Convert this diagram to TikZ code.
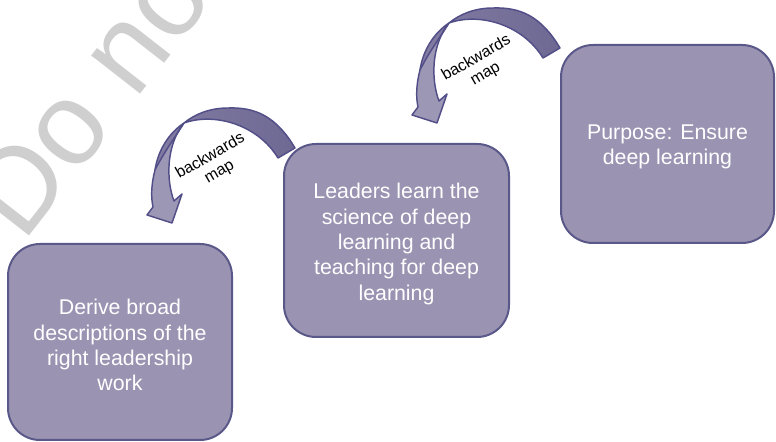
\documentclass[tikz,border=0pt]{standalone}
\usepackage{fontspec}
\setmainfont{Liberation Sans}
\definecolor{boxfill}{HTML}{9A94B2}
\definecolor{boxline}{HTML}{5A5889}
\definecolor{arrdark}{HTML}{6E6993}
\definecolor{arrmid}{HTML}{827CA3}
\definecolor{arrlight}{HTML}{9D97B6}
\definecolor{arrline}{HTML}{524F88}
\definecolor{wmark}{HTML}{CFCFCF}
\newcommand{\bwarrow}{%
  % dark back face of the ribbon
  \shade[left color=arrmid, right color=arrdark]
    (295,148) .. controls (276,116) and (255,107) .. (228,108)
    .. controls (210,108) and (195,114) .. (184,123)
    .. controls (169,133) and (158,150) .. (155,170)
    .. controls (164,152) and (176,136) .. (184,123)
    .. controls (215,112) and (258,125) .. (278,158) -- cycle;
  % light front face with the head
  \fill[arrlight]
    (184,123) .. controls (176,136) and (164,152) .. (155,170)
    .. controls (151,185) and (151,198) .. (153,207)
    -- (147,215) -- (172,223) -- (182,194) -- (174,201)
    .. controls (166,180) and (166,145) .. (184,123) -- cycle;
  % outlines
  \draw[arrout]
    (295,148) .. controls (276,116) and (255,107) .. (228,108)
    .. controls (210,108) and (195,114) .. (184,123)
    .. controls (169,133) and (158,150) .. (155,170)
    .. controls (151,185) and (151,198) .. (153,207)
    -- (147,215) -- (172,223) -- (182,194) -- (174,201)
    .. controls (166,180) and (166,145) .. (184,123)
    .. controls (215,112) and (258,125) .. (278,158) -- cycle;
  \draw[arrout] (184,123) .. controls (176,136) and (164,152) .. (155,170);
}
\begin{document}
\begin{tikzpicture}[x=0.75pt,y=-0.75pt,
  box/.style={draw=boxline, line width=1.5pt, fill=boxfill, rounded corners=24pt,
    inner sep=0pt},
  boxtext/.style={text=white, align=center, inner sep=0pt,
    font=\fontsize{16}{19}\selectfont},
  lbl/.style={font=\fontsize{12}{13.5}\selectfont, align=center, rotate=30,
    text=black, inner sep=0pt},
  arrout/.style={draw=arrline, line width=1.1pt, line join=round},
  wm/.style={text=wmark, font=\fontsize{88}{88}\selectfont, inner sep=0pt}
  ]
\useasboundingbox (0,0) rectangle (776,442);
% watermark
\node[wm, rotate=52, anchor=base west] (wmk) at (23,244) {Do not};
% boxes
\node[box, minimum width=168pt, minimum height=147pt] (derive) at (120,342) {};
\node[box, minimum width=168.75pt, minimum height=144.75pt] (leaders) at (396.5,240.5) {};
\node[box, minimum width=159.75pt, minimum height=148.5pt] (purpose) at (667.5,144) {};
\node[boxtext] (deriveT) at ([yshift=-2.5pt]derive.center)
  {Derive broad\\descriptions of the\\right leadership\\work};
\node[boxtext] (leadersT) at ([yshift=-2.5pt]leaders.center)
  {Leaders learn the\\science of deep\\learning and\\teaching for deep\\learning};
\node[boxtext] (purposeT) at ([yshift=-2pt]purpose.center)
  {Purpose: Ensure\\deep learning};
% curved arrows
\begin{scope}\bwarrow\end{scope}
\begin{scope}[shift={(265,-100)}]\bwarrow\end{scope}
\node[lbl] (lblA) at (215,164) {backwards\\map};
\node[lbl] (lblB) at (481,66) {backwards\\map};
\end{tikzpicture}
\end{document}
